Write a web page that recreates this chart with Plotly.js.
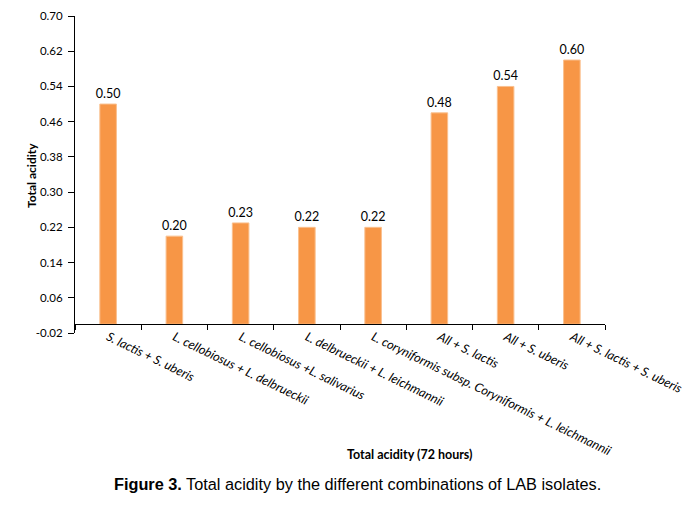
<!DOCTYPE html>
<html><head><meta charset="utf-8">
<script src="https://cdn.plot.ly/plotly-3.0.1.min.js"></script>
<style>body{margin:0;background:#fff}#c{width:697px;height:505px}</style>
</head><body><div id="c"></div>
<script>
const categories = [
  "S. lactis + S. uberis",
  "L. cellobiosus + L. delbrueckii",
  "L. cellobiosus +L. salivarius",
  "L. delbrueckii + L. leichmannii",
  "L. coryniformis subsp. Coryniformis + L. leichmannii",
  "All + S. lactis",
  "All + S. uberis",
  "All + S. lactis + S. uberis"
];
const acidity = [0.50, 0.20, 0.23, 0.22, 0.22, 0.48, 0.54, 0.60];
const valueLabels = acidity.map(v => v.toFixed(2));
const yTickVals = [-0.02, 0.06, 0.14, 0.22, 0.30, 0.38, 0.46, 0.54, 0.62, 0.70];

const F = "Lato, 'Open Sans', sans-serif";
const trace = {
  type: 'bar', x: categories, y: acidity,
  text: valueLabels, textposition: 'outside', cliponaxis: false, constraintext: 'none',
  textfont: {family: F, size: 12.5, color: '#000'},
  marker: {color: '#F79646', line: {color: '#FAC08F', width: 1}},
  width: 0.25, hoverinfo: 'none'
};
const layout = {
  width: 697, height: 505,
  margin: {l: 75, r: 92, t: 16, b: 172},
  paper_bgcolor: '#fff', plot_bgcolor: '#fff',
  showlegend: false,
  font: {family: F, color: '#000'},
  xaxis: {
    type: 'category', anchor: 'free', position: 0.02/0.72,
    showline: true, linecolor: '#000', linewidth: 1,
    ticks: 'outside', ticklen: 5, tickcolor: '#000', tickson: 'boundaries',
    tickangle: 26, tickfont: {family: F, size: 12.5, style: 'italic', color: '#000'},
    showgrid: false, zeroline: false, automargin: false
  },
  yaxis: {
    range: [-0.02, 0.70], tickmode: 'array', tickvals: yTickVals,
    ticktext: yTickVals.map(v => v.toFixed(2)),
    showline: true, linecolor: '#000', linewidth: 1,
    ticks: 'outside', ticklen: 6, tickcolor: '#000', ticklabelstandoff: 3,
    tickfont: {family: F, size: 11.5, color: '#000'},
    showgrid: false, zeroline: false, automargin: false
  },
  annotations: [
    {xref: 'paper', yref: 'paper', x: (31-75)/530, y: (333-176)/317, xanchor: 'center', yanchor: 'middle',
     textangle: -90, text: '<b>Total acidity</b>', showarrow: false, font: {family: F, size: 12, color: '#000'}},
    {xref: 'paper', yref: 'paper', x: (410-75)/530, y: -(454-333)/317, xanchor: 'center', yanchor: 'middle',
     text: '<b>Total acidity (72 hours)</b>', showarrow: false, font: {family: F, size: 12.5, color: '#000'}},
    {xref: 'paper', yref: 'paper', x: (357-75)/530, y: -(484-333)/317, xanchor: 'center', yanchor: 'middle',
     text: '<b>Figure 3.</b> Total acidity by the different combinations of LAB isolates.', showarrow: false,
     font: {family: "'Liberation Sans', Arial, sans-serif", size: 16.3, color: '#000'}}
  ]
};
Plotly.newPlot('c', [trace], layout, {displayModeBar: false, staticPlot: true});
</script></body></html>
